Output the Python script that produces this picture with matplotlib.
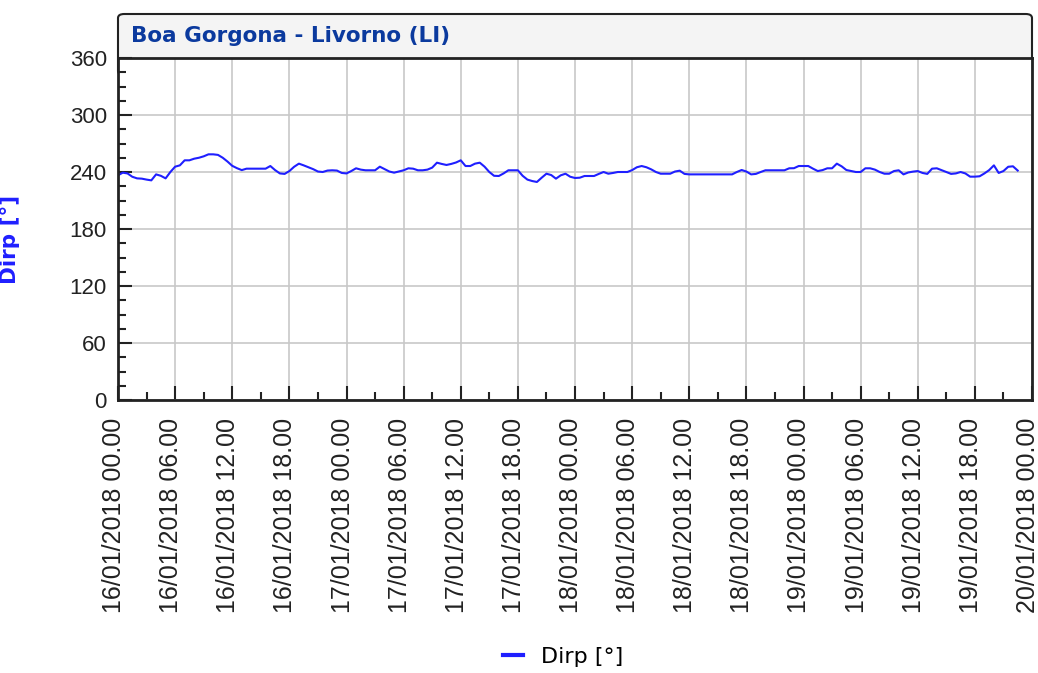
import pandas as pd
import numpy as np
import matplotlib
matplotlib.use('Agg')
import matplotlib.pyplot as plt
import matplotlib.dates as mdates
import matplotlib.transforms as mtransforms
from matplotlib.patches import FancyBboxPatch
from matplotlib.lines import Line2D

# data: half-hourly Dirp readings from 16/01/2018 00:00
start = '2018-01-16 00:00'
dirp = [236.5, 239.3, 238.5, 235, 233.3, 233, 232, 231.2, 237.5, 236,
        233.3, 240, 245.6, 247, 252.3, 252.3, 254, 255, 256.5, 258.6,
        258.6, 258, 255, 251, 246.5, 244, 242, 243.5, 243.5, 243.5,
        243.5, 243.5, 246.3, 242, 238.5, 238, 241, 245.5, 248.8, 247,
        245, 243, 240.5, 240, 241.5, 241.8, 241.5, 239, 238.5, 241,
        243.9, 242.5, 241.8, 241.8, 241.8, 245.6, 243, 240.5, 239.3, 240.5,
        241.8, 243.9, 243.5, 241.8, 241.8, 242.5, 244.6, 249.8, 248.5, 247.4,
        248.5, 250, 252.3, 246.3, 246.3, 248.8, 249.8, 245.6, 240, 236,
        235.8, 238.5, 241.8, 241.8, 241.8, 236, 232, 230.5, 229.5, 234,
        238.2, 236.8, 233, 236.5, 238.2, 235, 233.7, 234, 235.8, 235.8,
        235.8, 238, 240, 238.2, 239, 240, 240, 240, 242, 245,
        246.3, 245, 242.8, 240, 238.2, 238.2, 238.2, 240.5, 241.4, 238,
        237.5, 237.5, 237.5, 237.5, 237.5, 237.5, 237.5, 237.5, 237.5, 237.5,
        240, 242.1, 240.5, 237.5, 238, 240, 241.8, 241.8, 241.8, 241.8,
        241.8, 243.9, 244, 246.3, 246.3, 246.3, 243.5, 241, 242, 243.9,
        243.9, 248.8, 246, 242.1, 241, 240, 240, 243.9, 243.9, 242.5,
        240, 238.2, 238.2, 241, 241.8, 237.5, 239.5, 240.4, 241, 239,
        238, 243.5, 243.9, 242, 240, 238, 238.5, 240, 238.5, 235.1,
        235.1, 235.5, 238.5, 242, 247, 239, 241, 245.5, 246, 241.5]
times = pd.date_range(start, periods=len(dirp), freq='30min')

title = 'Boa Gorgona - Livorno (LI)'
ylabel = 'Dirp [°]'
line_color = '#1f1fff'

W, H = 1038, 673
fig = plt.figure(figsize=(W / 100, H / 100), dpi=100)
ax = fig.add_axes([118 / W, 1 - 400 / H, (1032 - 118) / W, (400 - 58) / H])

# title box behind the axes
box = FancyBboxPatch((118 / W, 1 - 75 / H), (1032 - 118) / W, (75 - 14) / H,
                     boxstyle='round,pad=0,rounding_size=0.006',
                     transform=fig.transFigure, facecolor='#f4f4f4',
                     edgecolor='#222222', linewidth=1.5, zorder=-1)
fig.patches.append(box)
fig.text(131 / W, 1 - 36 / H, title, color='#0b3a9e', fontsize=15.5,
         fontweight='bold', va='center', ha='left', family='DejaVu Sans')

ax.plot(times, dirp, color=line_color, linewidth=1.5)

ax.set_ylim(0, 360)
ax.set_yticks(np.arange(0, 361, 60))
ax.set_yticks(np.arange(0, 361, 15), minor=True)
ax.set_xlim(pd.Timestamp('2018-01-16 00:00'), pd.Timestamp('2018-01-20 00:00'))
ax.xaxis.set_major_locator(mdates.HourLocator(byhour=range(0, 24, 6)))
ax.xaxis.set_minor_locator(mdates.HourLocator(byhour=range(0, 24, 3)))
ax.xaxis.set_major_formatter(mdates.DateFormatter('%d/%m/%Y %H.%M'))

ax.grid(True, which='major', color='#c8c8c8', linewidth=1.2)
ax.set_axisbelow(True)
ax.tick_params(which='major', direction='in', length=10, width=1.5, color='#222222',
               labelcolor='#222222', pad=8)
ax.tick_params(which='minor', direction='in', length=6, width=1.5, color='#222222')
ax.tick_params(axis='y', labelsize=16)
ax.tick_params(axis='x', labelrotation=90, labelsize=18, pad=13)
shift = mtransforms.ScaledTranslation(-4 / 100, 0, fig.dpi_scale_trans)
for lab in ax.get_xticklabels():
    lab.set_family('Liberation Sans')
    lab.set_transform(lab.get_transform() + shift)
for lab in ax.get_yticklabels():
    lab.set_family('Liberation Sans')
for s in ax.spines.values():
    s.set_color('#222222')
    s.set_linewidth(2)

ax.set_ylabel(ylabel, color=line_color, fontsize=15.5, fontweight='bold')
ax.yaxis.set_label_coords(-0.107, 0.47)

handle = Line2D([], [], color=line_color, linewidth=3)
fig.legend([handle], [ylabel], loc='center', bbox_to_anchor=(563 / W, 1 - 657 / H),
           frameon=False, handlelength=0.9, handletextpad=0.8,
           prop={'family': 'DejaVu Sans', 'size': 16})

fig.savefig('out.png', dpi=100)
